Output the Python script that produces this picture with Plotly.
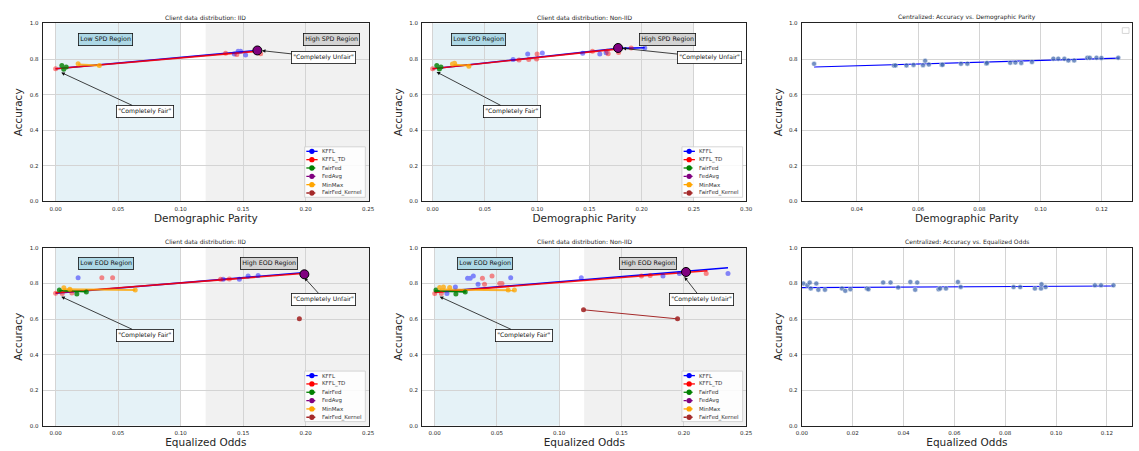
import plotly.graph_objects as go

FONT = "DejaVu Sans"
TEXT_COLOR = "#262626"
GRID = "#d4d4d4"
FRAME = "#222222"

METHODS = ["KFFL", "KFFL_TD", "FairFed", "FedAvg", "MinMax", "FairFed_Kernel"]
METHOD_COLORS = ["#0000ff", "#ff0000", "#008000", "#800080", "#ffa500", "#a52a2a"]
LEGEND_DASHES = ["solid", "solid", "dash", "dot", "dash", "dot"]

PANEL_TITLES = [
    "Client data distribution: IID",
    "Client data distribution: Non-IID",
    "Centralized: Accuracy vs. Demographic Parity",
    "Client data distribution: IID",
    "Client data distribution: Non-IID",
    "Centralized: Accuracy vs. Equalized Odds",
]
X_TITLES = ["Demographic Parity"] * 3 + ["Equalized Odds"] * 3
Y_TITLE = "Accuracy"
X_TICKS = [
    [0.0, 0.05, 0.10, 0.15, 0.20, 0.25],
    [0.0, 0.05, 0.10, 0.15, 0.20, 0.25, 0.30],
    [0.04, 0.06, 0.08, 0.10, 0.12],
    [0.0, 0.05, 0.10, 0.15, 0.20, 0.25],
    [0.0, 0.05, 0.10, 0.15, 0.20, 0.25],
    [0.0, 0.02, 0.04, 0.06, 0.08, 0.10, 0.12],
]
Y_TICKS = [0.0, 0.2, 0.4, 0.6, 0.8, 1.0]

# ---------------- Demographic parity, IID ----------------
DP_IID_KFFL_X = [0.143, 0.146, 0.148, 0.152]
DP_IID_KFFL_Y = [0.828, 0.843, 0.843, 0.823]
DP_IID_KFFLTD_X = [0.0, 0.136, 0.145, 0.164]
DP_IID_KFFLTD_Y = [0.745, 0.832, 0.825, 0.830]
DP_IID_FAIRFED_X = [0.005, 0.0065, 0.0085]
DP_IID_FAIRFED_Y = [0.764, 0.742, 0.755]
DP_IID_MINMAX_X = [0.018, 0.035]
DP_IID_MINMAX_Y = [0.773, 0.763]
DP_IID_FEDAVG_X = [0.1614]
DP_IID_FEDAVG_Y = [0.848]
DP_IID_KERNEL_X = []
DP_IID_KERNEL_Y = []
DP_IID_KFFL_FIT_X = [0.0, 0.162]
DP_IID_KFFL_FIT_Y = [0.745, 0.848]
DP_IID_KFFLTD_FIT_X = [0.0, 0.164]
DP_IID_KFFLTD_FIT_Y = [0.745, 0.845]
DP_IID_FAIRFED_FIT_X = []
DP_IID_FAIRFED_FIT_Y = []
DP_IID_MINMAX_FIT_X = [0.018, 0.035]
DP_IID_MINMAX_FIT_Y = [0.769, 0.764]
DP_IID_KERNEL_FIT_X = []
DP_IID_KERNEL_FIT_Y = []

# ---------------- Demographic parity, Non-IID ----------------
DP_NIID_KFFL_X = [0.077, 0.091, 0.105, 0.1436, 0.160, 0.166, 0.203]
DP_NIID_KFFL_Y = [0.797, 0.828, 0.834, 0.832, 0.828, 0.835, 0.862]
DP_NIID_KFFLTD_X = [0.0, 0.0827, 0.092, 0.0995, 0.100, 0.153, 0.167, 0.168, 0.178, 0.190]
DP_NIID_KFFLTD_Y = [0.745, 0.795, 0.797, 0.800, 0.828, 0.843, 0.843, 0.830, 0.837, 0.862]
DP_NIID_FAIRFED_X = [0.004, 0.0065, 0.008]
DP_NIID_FAIRFED_Y = [0.763, 0.744, 0.755]
DP_NIID_MINMAX_X = [0.019, 0.021, 0.0347]
DP_NIID_MINMAX_Y = [0.772, 0.776, 0.760]
DP_NIID_FEDAVG_X = [0.1775]
DP_NIID_FEDAVG_Y = [0.862]
DP_NIID_KERNEL_X = []
DP_NIID_KERNEL_Y = []
DP_NIID_KFFL_FIT_X = [0.0, 0.178, 0.203]
DP_NIID_KFFL_FIT_Y = [0.745, 0.860, 0.863]
DP_NIID_KFFLTD_FIT_X = [0.0, 0.178]
DP_NIID_KFFLTD_FIT_Y = [0.745, 0.857]
DP_NIID_FAIRFED_FIT_X = []
DP_NIID_FAIRFED_FIT_Y = []
DP_NIID_MINMAX_FIT_X = [0.020, 0.035]
DP_NIID_MINMAX_FIT_Y = [0.768, 0.763]
DP_NIID_KERNEL_FIT_X = []
DP_NIID_KERNEL_FIT_Y = []

# ---------------- Centralized, demographic parity ----------------
CENT_DP_X = [0.026, 0.0521, 0.0526, 0.0562, 0.0585, 0.0616, 0.0623, 0.0635, 0.0677, 0.068,
             0.074, 0.0761, 0.0823, 0.0825, 0.0901, 0.0918, 0.0937, 0.0972, 0.1042, 0.1058,
             0.1078, 0.1091, 0.111, 0.1153, 0.1161, 0.1183, 0.1199, 0.1254]
CENT_DP_Y = [0.773, 0.763, 0.764, 0.764, 0.767, 0.765, 0.790, 0.769, 0.768, 0.768,
             0.773, 0.774, 0.775, 0.778, 0.779, 0.780, 0.778, 0.783, 0.802, 0.802,
             0.801, 0.792, 0.792, 0.807, 0.807, 0.807, 0.806, 0.807]
CENT_DP_FIT_X = [0.026, 0.1257]
CENT_DP_FIT_Y = [0.755, 0.805]

# ---------------- Equalized odds, IID ----------------
EO_IID_KFFL_X = [0.018, 0.134, 0.147, 0.154, 0.162]
EO_IID_KFFL_Y = [0.833, 0.824, 0.824, 0.842, 0.845]
EO_IID_KFFLTD_X = [0.0, 0.0053, 0.013, 0.037, 0.0456, 0.132, 0.139, 0.198]
EO_IID_KFFLTD_Y = [0.745, 0.744, 0.746, 0.833, 0.833, 0.824, 0.826, 0.850]
EO_IID_FAIRFED_X = [0.003, 0.017, 0.0246]
EO_IID_FAIRFED_Y = [0.764, 0.741, 0.752]
EO_IID_MINMAX_X = [0.0066, 0.0114, 0.0637]
EO_IID_MINMAX_Y = [0.776, 0.767, 0.764]
EO_IID_FEDAVG_X = [0.199]
EO_IID_FEDAVG_Y = [0.852]
EO_IID_KERNEL_X = [0.195]
EO_IID_KERNEL_Y = [0.601]
EO_IID_KFFL_FIT_X = [0.0, 0.200]
EO_IID_KFFL_FIT_Y = [0.745, 0.862]
EO_IID_KFFLTD_FIT_X = [0.0, 0.200]
EO_IID_KFFLTD_FIT_Y = [0.748, 0.858]
EO_IID_FAIRFED_FIT_X = [0.003, 0.0246]
EO_IID_FAIRFED_FIT_Y = [0.760, 0.754]
EO_IID_MINMAX_FIT_X = [0.006, 0.0637]
EO_IID_MINMAX_FIT_Y = [0.768, 0.764]
EO_IID_KERNEL_FIT_X = []
EO_IID_KERNEL_FIT_Y = []

# ---------------- Equalized odds, Non-IID ----------------
EO_NIID_KFFL_X = [0.0098, 0.0166, 0.0264, 0.0285, 0.031, 0.0348, 0.061, 0.1177, 0.1833, 0.1965, 0.2355]
EO_NIID_KFFL_Y = [0.744, 0.781, 0.829, 0.829, 0.842, 0.796, 0.833, 0.833, 0.842, 0.857, 0.857]
EO_NIID_KFFLTD_X = [0.0, 0.0053, 0.0383, 0.040, 0.046, 0.0522, 0.054, 0.166, 0.173, 0.218]
EO_NIID_KFFLTD_Y = [0.744, 0.744, 0.829, 0.796, 0.842, 0.800, 0.800, 0.842, 0.845, 0.857]
EO_NIID_FAIRFED_X = [0.001, 0.017, 0.0245]
EO_NIID_FAIRFED_Y = [0.764, 0.741, 0.752]
EO_NIID_MINMAX_X = [0.004, 0.007, 0.012, 0.059, 0.064]
EO_NIID_MINMAX_Y = [0.778, 0.780, 0.778, 0.764, 0.764]
EO_NIID_FEDAVG_X = [0.2018]
EO_NIID_FEDAVG_Y = [0.865]
EO_NIID_KERNEL_X = [0.1195, 0.195]
EO_NIID_KERNEL_Y = [0.652, 0.601]
EO_NIID_KFFL_FIT_X = [0.0, 0.2355]
EO_NIID_KFFL_FIT_Y = [0.752, 0.889]
EO_NIID_KFFLTD_FIT_X = [0.0, 0.219]
EO_NIID_KFFLTD_FIT_Y = [0.750, 0.872]
EO_NIID_FAIRFED_FIT_X = [0.0, 0.025]
EO_NIID_FAIRFED_FIT_Y = [0.758, 0.753]
EO_NIID_MINMAX_FIT_X = [0.004, 0.064]
EO_NIID_MINMAX_FIT_Y = [0.766, 0.762]
EO_NIID_KERNEL_FIT_X = [0.1195, 0.195]
EO_NIID_KERNEL_FIT_Y = [0.652, 0.601]

# ---------------- Centralized, equalized odds ----------------
CENT_EO_X = [0.0006, 0.0022, 0.0031, 0.0035, 0.0057, 0.0065, 0.0091, 0.0158, 0.0171, 0.0191,
             0.0256, 0.0262, 0.032, 0.0349, 0.0379, 0.0427, 0.0446, 0.0454, 0.0538, 0.0544,
             0.0567, 0.0614, 0.0625, 0.0833, 0.0859, 0.0917, 0.0941, 0.0943, 0.0959, 0.1153,
             0.1177, 0.1226]
CENT_EO_Y = [0.800, 0.790, 0.805, 0.772, 0.800, 0.765, 0.765, 0.772, 0.759, 0.768,
             0.772, 0.768, 0.806, 0.806, 0.778, 0.809, 0.765, 0.806, 0.768, 0.772,
             0.772, 0.809, 0.781, 0.780, 0.780, 0.772, 0.772, 0.796, 0.780, 0.790,
             0.790, 0.790]
CENT_EO_FIT_X = [0.0, 0.1226]
CENT_EO_FIT_Y = [0.777, 0.786]

# ---------------- layout configuration ----------------
X_DOMAINS = [[0.03248, 0.32221], [0.36936, 0.65698], [0.70615, 0.99912]]
Y_DOMAINS = [[0.55432, 0.95410], [0.05033, 0.44945]]
X_RANGES = [[-0.0104, 0.2508], [-0.0099, 0.3003], [0.022, 0.1299],
            [-0.0104, 0.2508], [-0.0100, 0.2503], [0.0, 0.1299]]
LOW_REGIONS = [[0.0, 0.10], [0.0, 0.10], None, [0.0, 0.10], [0.0, 0.10], None]
HIGH_REGIONS = [[0.12, 0.2508], [0.15, 0.25], None, [0.12, 0.2508], [0.12, 0.2503], None]
LOW_LABELS = ["Low SPD Region", "Low SPD Region", None, "Low EOD Region", "Low EOD Region", None]
HIGH_LABELS = ["High SPD Region", "High SPD Region", None, "High EOD Region", "High EOD Region", None]
LOW_LABEL_X = [0.0402, 0.044, None, 0.0403, 0.0403, None]
HIGH_LABEL_X = [0.2206, 0.2251, None, 0.171, 0.1709, None]
LABEL_Y = 0.91
FAIR_ARROWS = [((0.0045, 0.724), (0.0718, 0.505)), ((0.0038, 0.727), (0.0763, 0.505)), None,
               ((0.0045, 0.726), (0.0718, 0.508)), ((0.0040, 0.726), (0.0719, 0.508)), None]
UNFAIR_ARROWS = [((0.165, 0.847), (0.2145, 0.809)), ((0.1818, 0.860), (0.2648, 0.809)), None,
                 ((0.199, 0.833), (0.2145, 0.712)), ((0.2005, 0.837), (0.2146, 0.710)), None]

FED_PANELS = {
    0: dict(pts=[(DP_IID_KFFL_X, DP_IID_KFFL_Y), (DP_IID_KFFLTD_X, DP_IID_KFFLTD_Y),
                 (DP_IID_FAIRFED_X, DP_IID_FAIRFED_Y), (DP_IID_FEDAVG_X, DP_IID_FEDAVG_Y),
                 (DP_IID_MINMAX_X, DP_IID_MINMAX_Y), (DP_IID_KERNEL_X, DP_IID_KERNEL_Y)],
            fits=[(DP_IID_KFFL_FIT_X, DP_IID_KFFL_FIT_Y), (DP_IID_KFFLTD_FIT_X, DP_IID_KFFLTD_FIT_Y),
                  (DP_IID_FAIRFED_FIT_X, DP_IID_FAIRFED_FIT_Y), ([], []),
                  (DP_IID_MINMAX_FIT_X, DP_IID_MINMAX_FIT_Y), (DP_IID_KERNEL_FIT_X, DP_IID_KERNEL_FIT_Y)]),
    1: dict(pts=[(DP_NIID_KFFL_X, DP_NIID_KFFL_Y), (DP_NIID_KFFLTD_X, DP_NIID_KFFLTD_Y),
                 (DP_NIID_FAIRFED_X, DP_NIID_FAIRFED_Y), (DP_NIID_FEDAVG_X, DP_NIID_FEDAVG_Y),
                 (DP_NIID_MINMAX_X, DP_NIID_MINMAX_Y), (DP_NIID_KERNEL_X, DP_NIID_KERNEL_Y)],
            fits=[(DP_NIID_KFFL_FIT_X, DP_NIID_KFFL_FIT_Y), (DP_NIID_KFFLTD_FIT_X, DP_NIID_KFFLTD_FIT_Y),
                  (DP_NIID_FAIRFED_FIT_X, DP_NIID_FAIRFED_FIT_Y), ([], []),
                  (DP_NIID_MINMAX_FIT_X, DP_NIID_MINMAX_FIT_Y), (DP_NIID_KERNEL_FIT_X, DP_NIID_KERNEL_FIT_Y)]),
    3: dict(pts=[(EO_IID_KFFL_X, EO_IID_KFFL_Y), (EO_IID_KFFLTD_X, EO_IID_KFFLTD_Y),
                 (EO_IID_FAIRFED_X, EO_IID_FAIRFED_Y), (EO_IID_FEDAVG_X, EO_IID_FEDAVG_Y),
                 (EO_IID_MINMAX_X, EO_IID_MINMAX_Y), (EO_IID_KERNEL_X, EO_IID_KERNEL_Y)],
            fits=[(EO_IID_KFFL_FIT_X, EO_IID_KFFL_FIT_Y), (EO_IID_KFFLTD_FIT_X, EO_IID_KFFLTD_FIT_Y),
                  (EO_IID_FAIRFED_FIT_X, EO_IID_FAIRFED_FIT_Y), ([], []),
                  (EO_IID_MINMAX_FIT_X, EO_IID_MINMAX_FIT_Y), (EO_IID_KERNEL_FIT_X, EO_IID_KERNEL_FIT_Y)]),
    4: dict(pts=[(EO_NIID_KFFL_X, EO_NIID_KFFL_Y), (EO_NIID_KFFLTD_X, EO_NIID_KFFLTD_Y),
                 (EO_NIID_FAIRFED_X, EO_NIID_FAIRFED_Y), (EO_NIID_FEDAVG_X, EO_NIID_FEDAVG_Y),
                 (EO_NIID_MINMAX_X, EO_NIID_MINMAX_Y), (EO_NIID_KERNEL_X, EO_NIID_KERNEL_Y)],
            fits=[(EO_NIID_KFFL_FIT_X, EO_NIID_KFFL_FIT_Y), (EO_NIID_KFFLTD_FIT_X, EO_NIID_KFFLTD_FIT_Y),
                  (EO_NIID_FAIRFED_FIT_X, EO_NIID_FAIRFED_FIT_Y), ([], []),
                  (EO_NIID_MINMAX_FIT_X, EO_NIID_MINMAX_FIT_Y), (EO_NIID_KERNEL_FIT_X, EO_NIID_KERNEL_FIT_Y)]),
}
CENT_PANELS = {2: (CENT_DP_X, CENT_DP_Y, CENT_DP_FIT_X, CENT_DP_FIT_Y),
               5: (CENT_EO_X, CENT_EO_Y, CENT_EO_FIT_X, CENT_EO_FIT_Y)}

POINT_OPACITY = [0.45, 0.45, 0.8, 1.0, 0.75, 0.9]
FIT_WIDTH = [1.6, 1.6, 1.8, 1.0, 2.0, 1.0]
FIT_OPACITY = [1.0, 0.9, 1.0, 1.0, 0.8, 1.0]

AX_IDS = ["", "2", "3", "4", "5", "6"]

fig = go.Figure()
shapes = []
annotations = []


def base_font(size, color=TEXT_COLOR):
    return dict(family=FONT, size=size, color=color)


for i in range(6):
    sid = AX_IDS[i]
    xref, yref = "x" + sid, "y" + sid
    row, col = i // 3, i % 3

    fig.layout["xaxis" + sid] = dict(
        domain=X_DOMAINS[col], range=X_RANGES[i], anchor=yref,
        tickmode="array", tickvals=X_TICKS[i], ticktext=[f"{v:.2f}" for v in X_TICKS[i]],
        showgrid=True, gridcolor=GRID, gridwidth=1, zeroline=False,
        showline=True, mirror=True, linecolor=FRAME, linewidth=1.2,
        ticks="outside", ticklen=2, tickcolor="rgba(0,0,0,0)",
        tickfont=base_font(5.5),
        title=dict(text=X_TITLES[i], font=base_font(10.5), standoff=3),
    )
    fig.layout["yaxis" + sid] = dict(
        domain=Y_DOMAINS[row], range=[0, 1], anchor=xref,
        tickmode="array", tickvals=Y_TICKS, ticktext=[f"{v:.1f}" for v in Y_TICKS],
        showgrid=True, gridcolor=GRID, gridwidth=1, zeroline=False,
        showline=True, mirror=True, linecolor=FRAME, linewidth=1.2,
        ticks="outside", ticklen=2, tickcolor="rgba(0,0,0,0)",
        tickfont=base_font(5.5),
        title=dict(text=Y_TITLE, font=base_font(10.5), standoff=4),
    )

    # panel title
    annotations.append(dict(
        text=PANEL_TITLES[i], xref=xref + " domain", yref=yref + " domain",
        x=0.5, y=1, yshift=6, xanchor="center", yanchor="middle",
        showarrow=False, font=base_font(6)))

    if LOW_REGIONS[i]:
        shapes.append(dict(type="rect", xref=xref, yref=yref + " domain",
                           x0=LOW_REGIONS[i][0], x1=LOW_REGIONS[i][1], y0=0, y1=1,
                           fillcolor="rgba(173,216,230,0.32)", line=dict(width=0), layer="below"))
        shapes.append(dict(type="rect", xref=xref, yref=yref + " domain",
                           x0=HIGH_REGIONS[i][0], x1=HIGH_REGIONS[i][1], y0=0, y1=1,
                           fillcolor="rgba(128,128,128,0.11)", line=dict(width=0), layer="below"))
        annotations.append(dict(text=LOW_LABELS[i], xref=xref, yref=yref, x=LOW_LABEL_X[i], y=LABEL_Y,
                                showarrow=False, font=base_font(6.3, "#111"), bgcolor="#add8e6",
                                bordercolor="#111", borderwidth=0.8, borderpad=1.5))
        annotations.append(dict(text=HIGH_LABELS[i], xref=xref, yref=yref, x=HIGH_LABEL_X[i], y=LABEL_Y,
                                showarrow=False, font=base_font(6.3, "#111"), bgcolor="#d3d3d3",
                                bordercolor="#111", borderwidth=0.8, borderpad=1.5))
        for arrow, txt in ((FAIR_ARROWS[i], '"Completely Fair"'), (UNFAIR_ARROWS[i], '"Completely Unfair"')):
            (hx, hy), (tx, ty) = arrow
            annotations.append(dict(text=txt, xref=xref, yref=yref, x=hx, y=hy, ax=tx, ay=ty,
                                    axref=xref, ayref=yref, showarrow=True, arrowhead=2,
                                    arrowsize=0.9, arrowwidth=0.8, arrowcolor="#111",
                                    font=base_font(6.1, "#111"), bgcolor="white",
                                    bordercolor="#111", borderwidth=0.8, borderpad=1.5))

    if i in FED_PANELS:
        spec = FED_PANELS[i]
        for m in range(6):
            fx, fy = spec["fits"][m]
            if fx:
                fig.add_trace(go.Scatter(x=fx, y=fy, mode="lines", xaxis=xref, yaxis=yref,
                                         line=dict(color=METHOD_COLORS[m], width=FIT_WIDTH[m]),
                                         opacity=FIT_OPACITY[m], showlegend=False, hoverinfo="skip"))
        for m in [0, 1, 2, 4, 5, 3]:
            px, py = spec["pts"][m]
            if not px:
                continue
            if m == 3:
                marker = dict(color=METHOD_COLORS[m], size=9, line=dict(color="black", width=1))
            else:
                marker = dict(color=METHOD_COLORS[m], size=5, line=dict(width=0))
            fig.add_trace(go.Scatter(x=px, y=py, mode="markers", xaxis=xref, yaxis=yref,
                                     marker=marker, opacity=POINT_OPACITY[m], name=METHODS[m],
                                     showlegend=False))

        # legend box (drawn in pixel units, anchored to lower-right corner)
        shapes.append(dict(type="rect", xref=xref + " domain", yref=yref + " domain",
                           xsizemode="pixel", ysizemode="pixel", xanchor=1, yanchor=0,
                           x0=-64.5, x1=-3.8, y0=4, y1=54.5, fillcolor="rgba(255,255,255,0.85)",
                           line=dict(color="#cccccc", width=0.8), layer="above"))
        for m in range(6):
            yc = 50 - 8.33 * m
            shapes.append(dict(type="line", xref=xref + " domain", yref=yref + " domain",
                               xsizemode="pixel", ysizemode="pixel", xanchor=1, yanchor=0,
                               x0=-62.8, x1=-51.5, y0=yc, y1=yc,
                               line=dict(color=METHOD_COLORS[m], width=1.3, dash=LEGEND_DASHES[m]),
                               layer="above"))
            shapes.append(dict(type="circle", xref=xref + " domain", yref=yref + " domain",
                               xsizemode="pixel", ysizemode="pixel", xanchor=1, yanchor=0,
                               x0=-59.9, x1=-54.6, y0=yc - 2.65, y1=yc + 2.65,
                               fillcolor=METHOD_COLORS[m], line=dict(width=0), layer="above"))
            annotations.append(dict(text=METHODS[m], xref=xref + " domain", yref=yref + " domain",
                                    x=1, y=0, xshift=-48.5, yshift=yc, xanchor="left", yanchor="middle",
                                    showarrow=False, font=base_font(5.5, "#333"), borderpad=0))
    else:
        cx, cy, fx, fy = CENT_PANELS[i]
        fig.add_trace(go.Scatter(x=fx, y=fy, mode="lines", xaxis=xref, yaxis=yref,
                                 line=dict(color="#0000ff", width=1.2), showlegend=False))
        fig.add_trace(go.Scatter(x=cx, y=cy, mode="markers", xaxis=xref, yaxis=yref,
                                 marker=dict(color="#3f68ad", size=5, opacity=0.72,
                                             line=dict(color="white", width=0.5)),
                                 showlegend=False))
        if i == 2:
            shapes.append(dict(type="rect", xref=xref + " domain", yref=yref + " domain",
                               xsizemode="pixel", ysizemode="pixel", xanchor=1, yanchor=1,
                               x0=-9.7, x1=-3.0, y0=-10.0, y1=-4.3, fillcolor="white",
                               line=dict(color="#cccccc", width=0.8), layer="above"))

fig.update_layout(
    width=1139, height=451, margin=dict(l=0, r=0, t=0, b=0),
    paper_bgcolor="white", plot_bgcolor="white",
    font=dict(family=FONT, color=TEXT_COLOR),
    showlegend=False, shapes=shapes, annotations=annotations,
)

fig.write_html("out.html", config={"displayModeBar": False},
               post_script="document.body.style.margin='0';document.body.style.overflow='hidden';")
